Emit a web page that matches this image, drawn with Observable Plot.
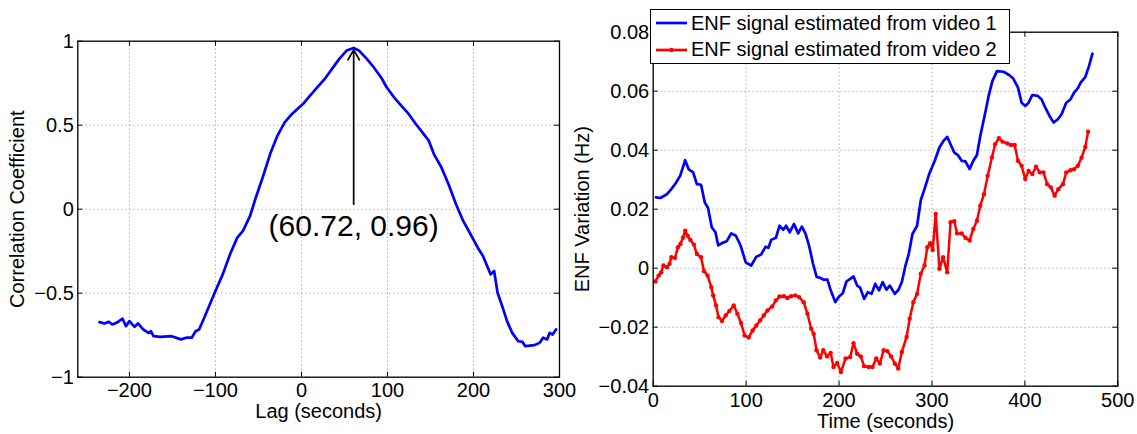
<!DOCTYPE html>
<html><head><meta charset="utf-8">
<script src="https://cdn.jsdelivr.net/npm/d3@7"></script>
<script src="https://cdn.jsdelivr.net/npm/@observablehq/plot@0.6"></script>
<style>
body{margin:0;background:#fff;}
#wrap{position:relative;width:1137px;height:434px;overflow:hidden;font-family:"Liberation Sans",Arial,sans-serif;background:#fff;}
#wrap svg{position:absolute;left:0;top:0;}
#legend{position:absolute;left:650px;top:9px;width:358px;height:53px;border:1.3px solid #000;background:#fff;z-index:5;font-size:20px;color:#000;}
#legend .row{position:absolute;left:0;height:24px;display:flex;align-items:center;white-space:nowrap;}
#legend svg{position:static;margin-left:5px;margin-right:4px;}
</style></head>
<body><div id="wrap"><div id="legend"></div></div>
<script>
// ---------- Left panel: cross-correlation ----------
const lag = [-234.7,-229,-224,-220,-215,-208,-204,-200,-194,-190,-184,-178,-175,-172,-164,-151,-140,-134,-127.5,-123,-119,-113,-100,-91.5,-83,-74.6,-68,-59.7,-53,-45,-36.4,-28,-19.5,-11,-4.7,1.7,10,18.6,27,35.6,44,52.5,60.72,67,76,84,93,99,107.6,116,124.6,133,141.5,148,154,162.7,171,179.7,188,196.6,205,211,220,224,228,234,239,245,252,257,260,271,277,281,285.6,288.6,292,296];
const corr = [-0.672,-0.68,-0.67,-0.686,-0.676,-0.652,-0.696,-0.666,-0.70,-0.68,-0.716,-0.736,-0.726,-0.755,-0.76,-0.756,-0.775,-0.765,-0.765,-0.726,-0.716,-0.646,-0.487,-0.388,-0.268,-0.169,-0.129,-0.04,0.07,0.19,0.328,0.437,0.517,0.567,0.596,0.626,0.676,0.726,0.775,0.835,0.895,0.944,0.96,0.944,0.895,0.845,0.781,0.726,0.666,0.616,0.567,0.507,0.451,0.408,0.328,0.249,0.149,0.030,-0.07,-0.149,-0.229,-0.278,-0.388,-0.368,-0.497,-0.586,-0.666,-0.736,-0.785,-0.79,-0.815,-0.809,-0.795,-0.765,-0.775,-0.736,-0.746,-0.716];
const lagTicks = [-200,-100,0,100,200,300];
const corrTicks = [-1,-0.5,0,0.5,1];
const peak = {lag: 60.72, r: 0.96, base: 0.03};

// ---------- Right panel: ENF signals ----------
const t1 = [3,7.8,14.8,19.5,24,29,34.4,38,43,47,51.5,55.5,59,63,67,70,74,79,84,89,94,99.6,105.5,111,116,121,124,127,132,136,140,143,147,151.6,156,160,164,168,172,176,180,183.6,187.5,191,196,200,204,208,212,215.6,219.5,222.7,227,231,235,239,243,247,251,254.7,260,264,267.6,271.5,275,279,284,288,292,297,303,308,312.5,316.4,320,324,328,332,336,340.6,344.5,348.4,352,357,361,365,370,377,383,387.5,392.6,396.5,400.4,404,408,414,418,422,426.5,431,435.5,439.5,444.5,449,453,457,460,465,469,472.7];
const enf1 = [0.0240,0.0238,0.0251,0.0268,0.0287,0.0313,0.0366,0.0336,0.0325,0.0285,0.0283,0.0223,0.0204,0.0139,0.0122,0.0077,0.0085,0.0091,0.0118,0.0110,0.0077,0.0020,0.0009,0.0039,0.0046,0.0073,0.0069,0.0096,0.0103,0.0144,0.0130,0.0144,0.0122,0.0150,0.0118,0.0141,0.0116,0.0073,0.0015,-0.0030,-0.0033,-0.0039,-0.0039,-0.0075,-0.0115,-0.0096,-0.0085,-0.0045,-0.0036,-0.0028,-0.0059,-0.0066,-0.0104,-0.0081,-0.0087,-0.0053,-0.0075,-0.0047,-0.0073,-0.0059,-0.0087,-0.0073,-0.0047,0.0009,0.0048,0.0116,0.0144,0.0231,0.0268,0.0319,0.0364,0.0409,0.0432,0.0445,0.0420,0.0392,0.0383,0.0364,0.0362,0.0336,0.0364,0.0384,0.0448,0.0522,0.0584,0.0634,0.0668,0.0666,0.0655,0.0643,0.0612,0.0561,0.0550,0.0561,0.0587,0.0584,0.0572,0.0544,0.0516,0.0494,0.0505,0.0522,0.0561,0.0572,0.0595,0.0610,0.0629,0.0648,0.0685,0.0727];
const t2 = [2.3,5.9,8.6,11,14.8,17.6,19.5,23.4,26.6,29.3,32,34.4,37,40,43.8,47,51.5,54.7,58.6,62.5,64.5,67.6,70.3,74,78,82,86.7,90.6,94.5,98.4,102.7,107,111,115,119,123,128,132,136,140.6,144.5,148.4,153,157,162,166,170,172.7,175.8,179.7,183,187,191,194,198,202,207,212,215.6,219.5,223.4,227,232,236,240,244,248,252,256,260,263.7,267.6,272.7,276,280,284,288,292,295,298,300.8,304,308,312,316.4,320,324,327,332,336,340.6,344.5,348.4,352,356,360,364.5,368,372,376,381,385,389,392.6,396.5,400.4,404,408,412,416,420,424,428,432,436,441,444.5,449,453,457,461,465,468];
const enf2 = [-0.0045,-0.0025,-0.0014,0.0009,0.0003,0.0015,0.0037,0.0035,0.0071,0.0082,0.0103,0.0127,0.0110,0.0096,0.0080,0.0048,0.0037,-0.0010,-0.0025,-0.0064,-0.0092,-0.0126,-0.0166,-0.0179,-0.0160,-0.0145,-0.0126,-0.0154,-0.0186,-0.0228,-0.0235,-0.0211,-0.0194,-0.0177,-0.0160,-0.0143,-0.0130,-0.0109,-0.0096,-0.0095,-0.0101,-0.0095,-0.0092,-0.0098,-0.0115,-0.0154,-0.0205,-0.0222,-0.0278,-0.0303,-0.0278,-0.0299,-0.0287,-0.0335,-0.0321,-0.0352,-0.0306,-0.0301,-0.0254,-0.0290,-0.0299,-0.0332,-0.0335,-0.0335,-0.0306,-0.0323,-0.0278,-0.0281,-0.0299,-0.0323,-0.0340,-0.0284,-0.0233,-0.0171,-0.0115,-0.0087,-0.0019,0.0009,0.0071,0.0085,0.0062,0.0184,-0.0002,0.0037,-0.0014,0.0156,0.0159,0.0118,0.0118,0.0103,0.0094,0.0133,0.0161,0.0212,0.0251,0.0313,0.0375,0.0420,0.0441,0.0429,0.0423,0.0418,0.0418,0.0364,0.0347,0.0302,0.0330,0.0319,0.0344,0.0325,0.0325,0.0285,0.0274,0.0246,0.0268,0.0285,0.0325,0.0332,0.0336,0.0347,0.0375,0.0411,0.0463];
const timeTicks = [0,100,200,300,400,500];
const enfTicks = [-0.04,-0.02,0,0.02,0.04,0.06,0.08];
const seriesNames = ["ENF signal estimated from video 1","ENF signal estimated from video 2"];
const seriesColors = ["#0000ff","#ff0000"];

// ---------- helpers ----------
const W = 1137, H = 434;
const FONT = "Liberation Sans, Arial, Helvetica, sans-serif";
const minus = (s) => s.replace("-", "\u2212");
const fmtInt = d => minus(String(d));
const fmtCorr = d => minus(String(d));
const fmtEnf = d => d === 0 ? "0" : minus(d.toFixed(2));
const gridStyle = {stroke: "#8c8c8c", strokeOpacity: 1, strokeWidth: 1, strokeDasharray: "1,3"};

function panel({fl, fr, ft, fb, xDomain, yDomain, xTicks, yTicks, xFmt, yFmt, xLabel, yLabel, xLabelDy, yLabelDx, xPad, marks}) {
  const innerW = fr - fl, innerH = fb - ft;
  return Plot.plot({
    width: W, height: H,
    marginLeft: fl, marginRight: W - fr, marginTop: ft, marginBottom: H - fb,
    style: {background: "transparent", fontFamily: FONT, fontSize: "20px", overflow: "visible", color: "#000"},
    x: {domain: xDomain},
    y: {domain: yDomain},
    marks: [
      Plot.gridX(xTicks, gridStyle),
      Plot.gridY(yTicks, gridStyle),
      Plot.tickX(xTicks, {x: d => d, stroke: "#000", insetTop: innerH - 5}),
      Plot.tickX(xTicks, {x: d => d, stroke: "#000", insetBottom: innerH - 5}),
      Plot.tickY(yTicks, {y: d => d, stroke: "#000", insetRight: innerW - 5}),
      Plot.tickY(yTicks, {y: d => d, stroke: "#000", insetLeft: innerW - 5}),
      ...marks,
      Plot.frame({stroke: "#000", strokeWidth: 1.3}),
      Plot.axisX(xTicks, {tickSize: 0, tickPadding: xPad, tickFormat: xFmt, fontSize: 20, label: null}),
      Plot.axisY(yTicks, {tickSize: 0, tickPadding: 4, tickFormat: yFmt, fontSize: 20, label: null}),
      Plot.text([xLabel], {text: d => d, frameAnchor: "bottom", dy: xLabelDy, textAnchor: "middle", lineAnchor: "middle", fontSize: 20, fill: "#000"}),
      Plot.text([yLabel], {text: d => d, frameAnchor: "left", dx: yLabelDx, rotate: -90, textAnchor: "middle", lineAnchor: "middle", fontSize: 20, fill: "#000"})
    ]
  });
}

const corrData = lag.map((l, i) => ({lag: l, r: corr[i]}));
const leftPlot = panel({
  fl: 77.3, fr: 559, ft: 40.7, fb: 376.7,
  xDomain: [-260, 300], yDomain: [-1, 1],
  xTicks: lagTicks, yTicks: corrTicks, xFmt: fmtInt, yFmt: fmtCorr,
  xLabel: "Lag (seconds)", yLabel: "Correlation Coefficient",
  xLabelDy: 34, yLabelDx: -60, xPad: 6,
  marks: [
    Plot.line(corrData, {x: "lag", y: "r", stroke: seriesColors[0], strokeWidth: 2.7, strokeLinejoin: "round"}),
    Plot.arrow([peak], {x1: "lag", y1: "base", x2: "lag", y2: "r", stroke: "#000", strokeWidth: 1.7, headLength: 10, insetEnd: 2}),
    Plot.text([peak], {x: "lag", y: "base", text: d => `(${d.lag}, ${d.r})`, dy: 22, fontSize: 30, lineAnchor: "middle", fill: "#000"})
  ]
});

const d1 = t1.map((t, i) => ({t, v: enf1[i]}));
const d2 = t2.map((t, i) => ({t, v: enf2[i]}));
const rightPlot = panel({
  fl: 652.7, fr: 1117.3, ft: 31.7, fb: 385.7,
  xDomain: [0, 500], yDomain: [-0.04, 0.08],
  xTicks: timeTicks, yTicks: enfTicks, xFmt: fmtInt, yFmt: fmtEnf,
  xLabel: "Time (seconds)", yLabel: "ENF Variation (Hz)",
  xLabelDy: 35, yLabelDx: -71, xPad: 7,
  marks: [
    Plot.line(d1, {x: "t", y: "v", stroke: seriesColors[0], strokeWidth: 2.7, strokeLinejoin: "round"}),
    Plot.line(d2, {x: "t", y: "v", stroke: seriesColors[1], strokeWidth: 2.5, strokeLinejoin: "round"}),
    Plot.dot(d2, {x: "t", y: "v", r: 2.2, fill: seriesColors[1], stroke: "none"})
  ]
});

const wrap = document.getElementById("wrap");
wrap.insertBefore(rightPlot, wrap.firstChild);
wrap.insertBefore(leftPlot, wrap.firstChild);

// legend
const legend = document.getElementById("legend");
const rowTops = [1, 27.7];
seriesNames.forEach((name, i) => {
  const row = document.createElement("div");
  row.className = "row";
  row.style.top = rowTops[i] + "px";
  const ns = "http://www.w3.org/2000/svg";
  const sw = document.createElementNS(ns, "svg");
  sw.setAttribute("width", 31); sw.setAttribute("height", 10);
  const ln = document.createElementNS(ns, "line");
  ln.setAttribute("x1", 0); ln.setAttribute("x2", 31); ln.setAttribute("y1", 5); ln.setAttribute("y2", 5);
  ln.setAttribute("stroke", seriesColors[i]); ln.setAttribute("stroke-width", 2.7);
  sw.appendChild(ln);
  if (i === 1) {
    const c = document.createElementNS(ns, "circle");
    c.setAttribute("cx", 15.5); c.setAttribute("cy", 5); c.setAttribute("r", 2.2); c.setAttribute("fill", seriesColors[i]);
    sw.appendChild(c);
  }
  row.appendChild(sw);
  const span = document.createElement("span");
  span.textContent = name;
  row.appendChild(span);
  legend.appendChild(row);
});
</script></body></html>
